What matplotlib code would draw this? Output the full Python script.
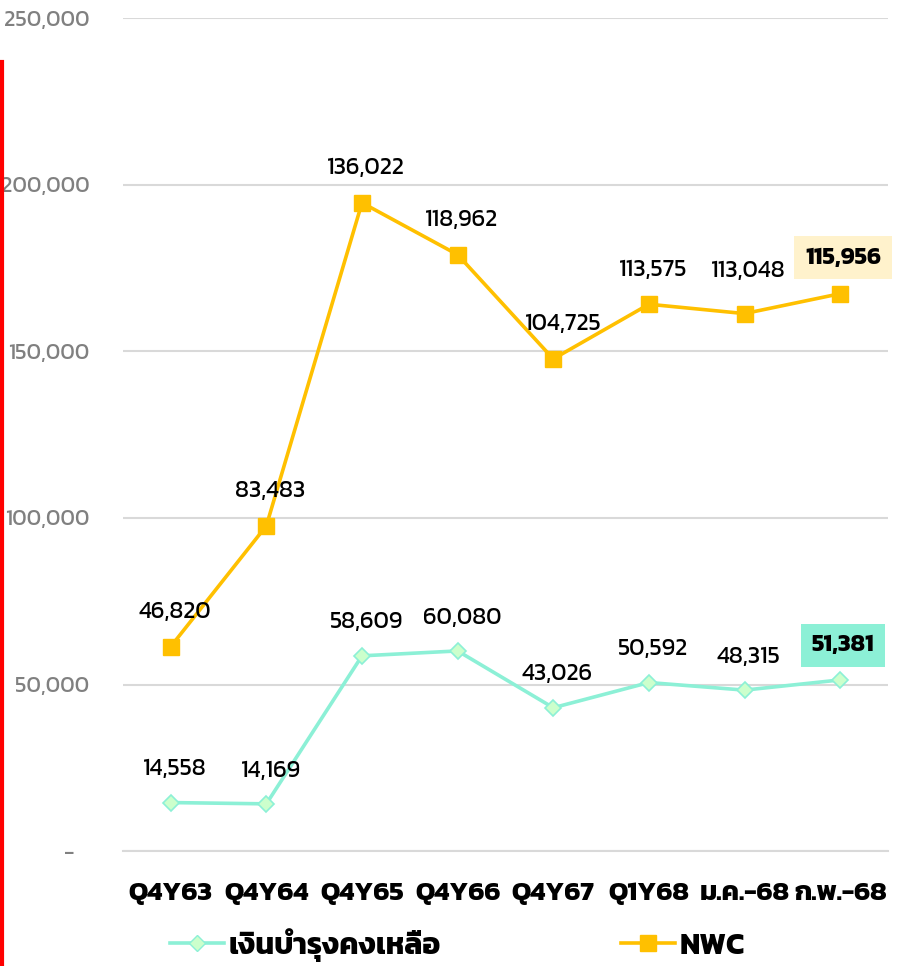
import numpy as np
import matplotlib.pyplot as plt
from matplotlib import font_manager
from matplotlib.lines import Line2D

# pick a font that can draw Thai, if one is installed
thai_fonts = ['Kanit', 'Prompt', 'Noto Sans Thai', 'Noto Sans Thai Looped', 'Loma', 'Garuda',
              'Tlwg Typo', 'Sarabun', 'Leelawadee UI', 'Tahoma']
installed = set(f.name for f in font_manager.fontManager.ttflist)
family = [f for f in thai_fonts if f in installed] + ['DejaVu Sans']
plt.rcParams['font.family'] = family

categories = ['Q4Y63', 'Q4Y64', 'Q4Y65', 'Q4Y66', 'Q4Y67', 'Q1Y68', 'ม.ค.-68', 'ก.พ.-68']
reserve = [14558, 14169, 58609, 60080, 43026, 50592, 48315, 51381]
nwc = [46820, 83483, 136022, 118962, 104725, 113575, 113048, 115956]
yticks = [0, 50000, 100000, 150000, 200000, 250000]

teal = '#8CF0D6'
gold = '#FFC000'

fig = plt.figure(figsize=(8.97, 9.66), dpi=100)
ax = fig.add_axes([0.137, 0.119, 0.853, 0.862])

x = np.arange(len(categories))
reserve = np.array(reserve)
# stacked line: NWC drawn on top of the reserve series
nwc_stacked = reserve + np.array(nwc)

ax.plot(x, reserve, color=teal, lw=2.6, marker='D', ms=8.5,
        mfc='#CCFFCC', mec=teal, mew=1.2, zorder=3)
ax.plot(x, nwc_stacked, color=gold, lw=2.6, marker='s', ms=11,
        mfc=gold, mec=gold, zorder=3)

lab_size = 17
for i in range(len(categories)):
    if i == len(categories) - 1:
        ax.annotate(f'{nwc[i]:,}', (x[i], nwc_stacked[i]), xytext=(2, 26),
                    textcoords='offset points', ha='center', va='center',
                    fontsize=lab_size, fontweight='bold', color='black',
                    bbox=dict(boxstyle='square,pad=0.45', fc='#FFF2CC', ec='none'))
        ax.annotate(f'{reserve[i]:,}', (x[i], reserve[i]), xytext=(2, 25),
                    textcoords='offset points', ha='center', va='center',
                    fontsize=lab_size, fontweight='bold', color='black',
                    bbox=dict(boxstyle='square,pad=0.45', fc=teal, ec='none'))
    else:
        dx = 7 if i == 4 else 3
        dy = 31 if i == 6 else 25
        ax.annotate(f'{nwc[i]:,}', (x[i], nwc_stacked[i]), xytext=(dx, dy),
                    textcoords='offset points', ha='center', va='center',
                    fontsize=lab_size, color='black')
        ax.annotate(f'{reserve[i]:,}', (x[i], reserve[i]), xytext=(3, 24),
                    textcoords='offset points', ha='center', va='center',
                    fontsize=lab_size, color='black')

ax.set_xlim(-0.5, len(categories) - 0.5)
ax.set_ylim(0, 250000)
ax.set_yticks(yticks)
ax.set_yticklabels(['-   '] + [f'{v:,}' for v in yticks[1:]])
ax.set_xticks(x)
ax.set_xticklabels(categories, fontsize=19.6, fontweight='bold')
ax.tick_params(axis='y', length=0, pad=24, labelsize=16, labelcolor='#808080')
ax.tick_params(axis='x', length=0, pad=22)
ax.grid(axis='y', color='#D9D9D9', lw=1.5)
ax.set_axisbelow(True)
for s in ['top', 'right', 'left']:
    ax.spines[s].set_visible(False)
ax.spines['bottom'].set_color('#D9D9D9')
ax.spines['bottom'].set_linewidth(1.5)

handles = [
    Line2D([], [], color=teal, lw=2.6, marker='D', ms=8.5, mfc='#CCFFCC', mec=teal),
    Line2D([], [], color=gold, lw=2.6, marker='s', ms=11, mfc=gold, mec=gold),
]
fig.legend(handles, ['เงินบำรุงคงเหลือ', 'NWC'], loc='center', bbox_to_anchor=(0.51, 0.022),
           ncol=2, frameon=False, handlelength=1.8, handletextpad=0.15, columnspacing=6.05,
           prop=dict(weight='bold', size=21.5))

# red bar on the left edge
fig.add_artist(Line2D([0.002, 0.002], [0.0, 0.936], color='red', lw=3,
                      transform=fig.transFigure))

fig.savefig('out.png', dpi=100)
